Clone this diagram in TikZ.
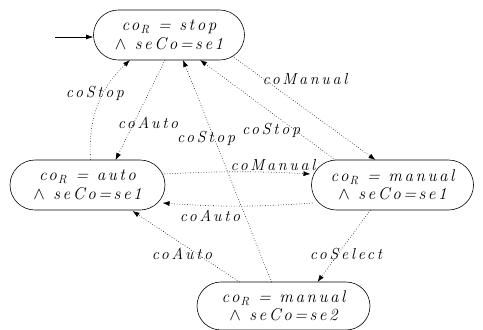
\documentclass[tikz,border=0pt]{standalone}
\usepackage{fontspec}
\usetikzlibrary{shapes.misc,arrows.meta}
\newfontfamily\stfont[LetterSpace=15]{Latin Modern Roman}
\newfontfamily\lbfont[LetterSpace=17]{Latin Modern Roman}
\newcommand\coR{co\kern1.2pt\textsubscript{R}}
\tikzset{
  state/.style={draw, rounded rectangle, minimum height=50pt, align=center, inner sep=1pt,
    font=\stfont\itshape\fontsize{17}{18.5}\selectfont, line width=0.6pt},
  trans/.style={dotted, line width=0.6pt, -{Latex[length=7pt,width=5pt]}},
  lbl/.style={font=\lbfont\itshape\fontsize{16}{16}\selectfont, inner sep=1pt}
}
\begin{document}
\begin{tikzpicture}[x=1pt,y=-1pt]
\useasboundingbox (0,0) rectangle (483,330);
\node[state, minimum width=153pt] (stop) at (169,35) {\coR{} = stop\\$\wedge$ seCo=se1};
\node[state, minimum width=157pt] (auto) at (87.5,185) {\coR{} = auto\\$\wedge$ seCo=se1};
\node[state, minimum width=164pt] (man1) at (392.5,185) {\coR{} = manual\\$\wedge$ seCo=se1};
\node[state, minimum width=175pt, minimum height=48pt] (man2) at (283.5,306) {\coR{} = manual\\$\wedge$ seCo=se2};
\coordinate (init) at (55,37);
\draw[-{Latex[length=7pt,width=5pt]}, line width=0.6pt] (init) -- (stop.west|-init);
% edges
\draw[trans] ([shift={(-4,25)}]stop.center) -- ([shift={(28,-25)}]auto.center);
\draw[trans] ([shift={(3,-25)}]auto.center) to[bend left=25] ([shift={(-39,25)}]stop.center);
\draw[trans] ([shift={(63,21)}]stop.center) -- ([shift={(-17,-25)}]man1.center);
\draw[trans] ([shift={(-57,-25)}]man1.center) -- ([shift={(31,25)}]stop.center);
\draw[trans] ([shift={(-12,-24)}]man2.center) -- ([shift={(14,25)}]stop.center);
\draw[trans] ([shift={(77,-11)}]auto.center) to[bend left=3] ([shift={(-82,-11)}]man1.center);
\draw[trans] ([shift={(-80,18)}]man1.center) to[bend left=4] ([shift={(75,18)}]auto.center);
\draw[trans] ([shift={(-44,-24)}]man2.center) -- ([shift={(45,26)}]auto.center);
\draw[trans] ([shift={(-22,25)}]man1.center) -- ([shift={(34,-24)}]man2.center);
% labels
\node[lbl] (l1) at (148,123) {coAuto};
\node[lbl] (l2) at (95,93) {coStop};
\node[lbl] (l3) at (305,79) {coManual};
\node[lbl] (l4) at (271,130) {coStop};
\node[lbl] (l5) at (206,138) {coStop};
\node[lbl] (l6) at (273,165) {coManual};
\node[lbl] (l7) at (210,216) {coAuto};
\node[lbl] (l8) at (182,254) {coAuto};
\node[lbl] (l9) at (346,254) {coSelect};
\end{tikzpicture}
\end{document}
